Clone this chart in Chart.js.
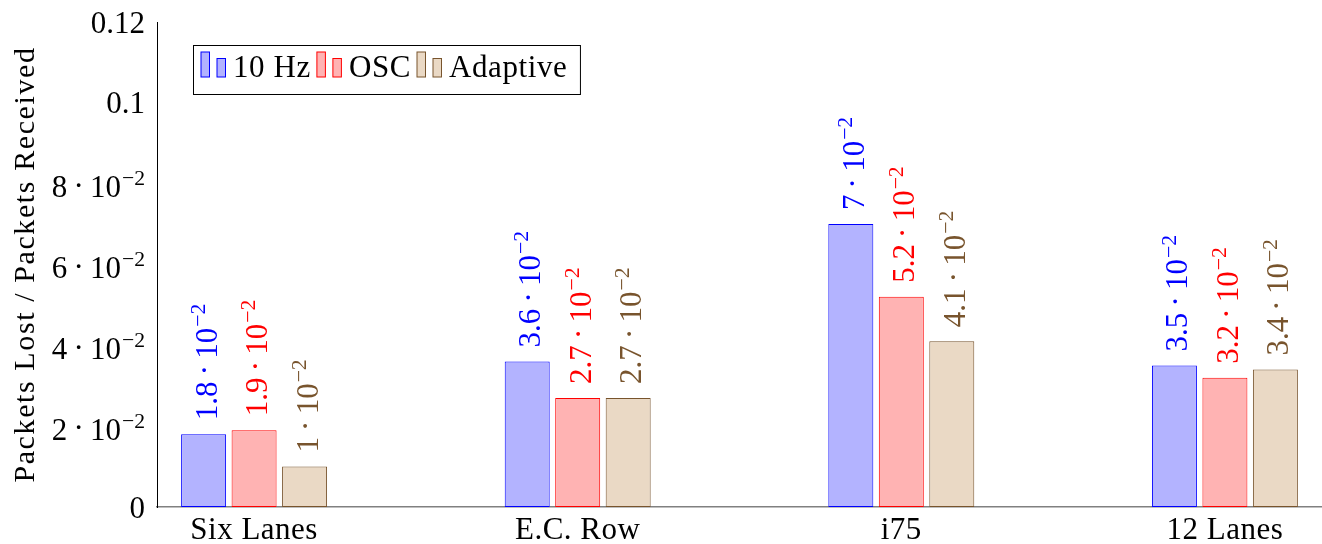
<!DOCTYPE html>
<html>
<head>
<meta charset="utf-8">
<script src="https://cdn.jsdelivr.net/npm/chart.js@4.4.1/dist/chart.umd.min.js"></script>
<style>
  html, body { margin: 0; padding: 0; background: #ffffff; }
  #wrap { width: 1322px; height: 544px; position: relative; }
</style>
</head>
<body>
<div id="wrap"><canvas id="c"></canvas></div>
<script>
// Packet loss ratio per road scenario and update strategy
const categories = ['Six Lanes', 'E.C. Row', 'i75', '12 Lanes'];
const seriesNames = ['10 Hz', 'OSC', 'Adaptive'];
const hz10Values = [0.018, 0.036, 0.070, 0.035];
const oscValues = [0.019, 0.027, 0.052, 0.032];
const adaptiveValues = [0.010, 0.027, 0.041, 0.034];
const yTickValues = [0, 0.02, 0.04, 0.06, 0.08, 0.1, 0.12];
// [mantissa, exponent] pairs; exponent null means plain number
const yTickLabels = [['0', null], ['2', -2], ['4', -2], ['6', -2], ['8', -2], ['0.1', null], ['0.12', null]];
const yTitle = 'Packets Lost / Packets Received';

const FONT = '"Liberation Serif", "Times New Roman", serif';
const brown = 'rgb(120,84,45)';
const styles = [
  { fill: 'rgb(179,179,255)', line: 'rgb(0,0,255)' },
  { fill: 'rgb(255,179,179)', line: 'rgb(255,0,0)' },
  { fill: 'rgb(234,217,197)', line: brown }
];
const seriesValues = [hz10Values, oscValues, adaptiveValues];

function toSci(v) {
  const e = Math.floor(Math.log10(v) + 1e-9);
  const m = +(v / Math.pow(10, e)).toFixed(2);
  return [String(m), e];
}

// Draws "m · 10^e" (or a plain number) with a raised exponent.
function mathWidth(ctx, parts, size) {
  const [m, e] = parts;
  ctx.font = size + 'px ' + FONT;
  let w = ctx.measureText(m).width;
  if (e === null) return w;
  const gap = 0.2 * size;
  w += gap + ctx.measureText('\u00B7').width + gap + ctx.measureText('10').width;
  ctx.font = (size * 0.7) + 'px ' + FONT;
  w += 1 + ctx.measureText('\u2212' + Math.abs(e)).width;
  return w;
}
function drawMath(ctx, parts, x, y, size, align) {
  const [m, e] = parts;
  const total = mathWidth(ctx, parts, size);
  let cx = align === 'right' ? x - total : (align === 'center' ? x - total / 2 : x);
  ctx.textAlign = 'left';
  ctx.textBaseline = 'alphabetic';
  ctx.font = size + 'px ' + FONT;
  ctx.fillText(m, cx, y);
  cx += ctx.measureText(m).width;
  if (e === null) return;
  const gap = 0.2 * size;
  cx += gap;
  ctx.fillText('\u00B7', cx, y - 0.04 * size);
  cx += ctx.measureText('\u00B7').width + gap;
  ctx.fillText('10', cx, y);
  cx += ctx.measureText('10').width + 1;
  ctx.font = (size * 0.7) + 'px ' + FONT;
  ctx.fillText('\u2212' + Math.abs(e), cx, y - 0.38 * size);
}

const decorations = {
  id: 'decorations',
  afterDatasetsDraw(chart) {
    const ctx = chart.ctx;
    const xs = chart.scales.x, ys = chart.scales.y;
    ctx.save();

    // value labels above bars, rotated
    chart.data.datasets.forEach((ds, di) => {
      const meta = chart.getDatasetMeta(di);
      meta.data.forEach((bar, i) => {
        const v = ds.data[i].y;
        ctx.save();
        ctx.fillStyle = styles[di].line;
        ctx.translate(bar.x + 13, bar.y - 14);
        ctx.rotate(-Math.PI / 2);
        drawMath(ctx, toSci(v), 0, 0, 31, 'left');
        ctx.restore();
      });
    });

    // y tick labels
    ctx.fillStyle = '#000';
    yTickValues.forEach((v, i) => {
      const py = ys.getPixelForValue(v);
      const parts = yTickLabels[i];
      const off = parts[1] === null ? 10.5 : 13.5;
      drawMath(ctx, parts, 145, py + off, 31, 'right');
    });

    // category labels
    ctx.font = '31px ' + FONT;
    ctx.letterSpacing = '0.5px';
    ctx.textAlign = 'center';
    ctx.textBaseline = 'alphabetic';
    categories.forEach((c, i) => {
      ctx.fillText(c, xs.getPixelForValue(i), 539);
    });

    // y axis title
    ctx.save();
    ctx.font = '30px ' + FONT;
    ctx.letterSpacing = '1.6px';
    ctx.translate(34, (chart.chartArea.top + chart.chartArea.bottom) / 2);
    ctx.rotate(-Math.PI / 2);
    ctx.textAlign = 'center';
    ctx.fillText(yTitle, 0, 0);
    ctx.restore();

    // legend
    ctx.letterSpacing = '0.6px';
    ctx.font = '31px ' + FONT;
    ctx.textAlign = 'left';
    let lx = 201;
    seriesNames.forEach((name, i) => {
      ctx.fillStyle = styles[i].fill;
      ctx.strokeStyle = styles[i].line;
      ctx.lineWidth = 1;
      ctx.fillRect(lx, 52, 8.5, 25);
      ctx.strokeRect(lx, 52, 8.5, 25);
      ctx.fillRect(lx + 16, 58.5, 8.5, 18.5);
      ctx.strokeRect(lx + 16, 58.5, 8.5, 18.5);
      ctx.fillStyle = '#000';
      ctx.fillText(name, lx + 32, 77);
      lx = lx + 32 + ctx.measureText(name).width + 6;
    });
    ctx.strokeStyle = '#000';
    ctx.lineWidth = 1;
    ctx.strokeRect(193.5, 45.5, (lx - 6 + 13) - 193.5, 49);

    ctx.restore();
  }
};

const datasets = seriesNames.map((name, si) => ({
  label: name,
  data: seriesValues[si].map((v, i) => ({ x: i, y: v })),
  backgroundColor: styles[si].fill,
  borderColor: styles[si].line,
  borderWidth: 1,
  borderSkipped: false,
  categoryPercentage: 0.468,
  barPercentage: 0.891
}));

new Chart(document.getElementById('c'), {
  type: 'bar',
  data: { datasets },
  options: {
    responsive: true,
    maintainAspectRatio: false,
    animation: false,
    layout: { padding: { top: 22, left: 0, right: 0, bottom: 0 } },
    plugins: { legend: { display: false }, tooltip: { enabled: false } },
    scales: {
      x: {
        type: 'linear', min: -0.3, max: 3.3,
        offset: false,
        grid: { display: false, offset: false },
        ticks: { display: false },
        afterBuildTicks(s) { s.ticks = categories.map((c, i) => ({ value: i })); },
        border: { color: '#808080', width: 1.5 },
        afterFit(s) { s.height = 37; }
      },
      y: {
        min: 0, max: 0.12,
        grid: { display: false },
        ticks: { display: false },
        border: { color: '#000', width: 1 },
        afterFit(s) { s.width = 157; }
      }
    }
  },
  plugins: [decorations]
});
</script>
</body>
</html>
